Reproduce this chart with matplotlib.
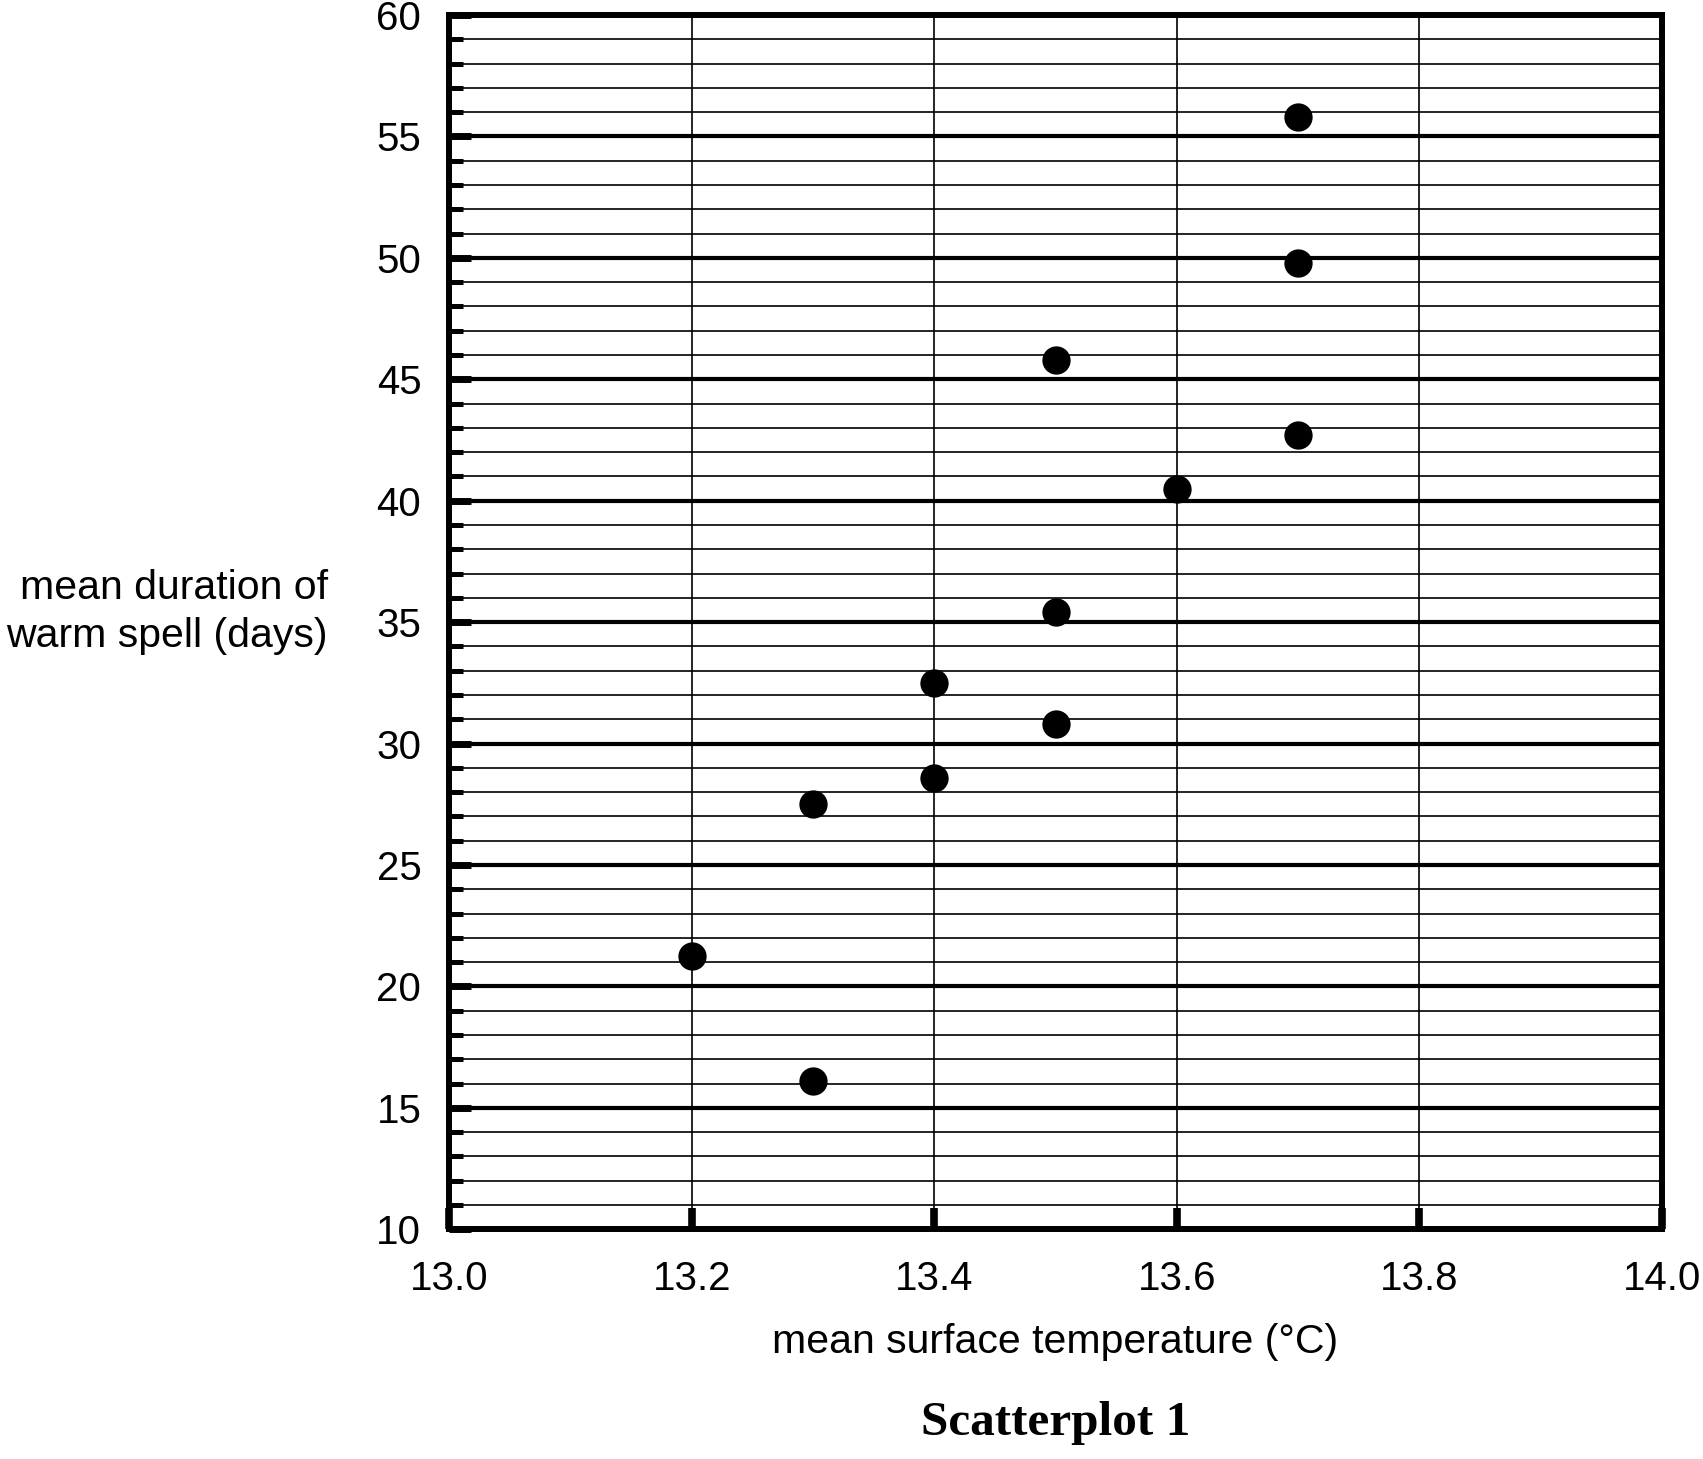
import matplotlib
matplotlib.use("Agg")
import matplotlib.pyplot as plt
from matplotlib.ticker import MultipleLocator

temperature = [13.2, 13.3, 13.3, 13.4, 13.4, 13.5, 13.5, 13.5, 13.6, 13.7, 13.7, 13.7]
duration = [21.25, 16.1, 27.5, 28.6, 32.5, 30.8, 35.4, 45.8, 40.5, 42.7, 49.8, 55.8]

x_ticks = [13.0, 13.2, 13.4, 13.6, 13.8, 14.0]
x_labels = ["13.0", "13.2", "13.4", "13.6", "13.8", "14.0"]
y_ticks = [10, 15, 20, 25, 30, 35, 40, 45, 50, 55, 60]

plt.rcParams["font.family"] = ["Liberation Sans", "DejaVu Sans"]

fig = plt.figure(figsize=(17.03, 14.59), dpi=100)
ax = fig.add_axes([0.2637, 0.1575, 0.7122, 0.8322])

ax.scatter(temperature, duration, s=415, color="black", zorder=3, linewidths=0)

ax.set_xlim(13.0, 14.0)
ax.set_ylim(10, 60)
ax.set_xticks(x_ticks)
ax.set_xticklabels(x_labels)
ax.set_yticks(y_ticks)
ax.yaxis.set_minor_locator(MultipleLocator(1))

# grid: thin every 1 day, thick every 5, thin verticals
ax.grid(axis="y", which="major", color="black", linewidth=3.0)
ax.grid(axis="y", which="minor", color="black", linewidth=1.2)
ax.grid(axis="x", which="major", color="black", linewidth=1.2)
ax.set_axisbelow(True)

for sp in ax.spines.values():
    sp.set_linewidth(4.3)
    sp.set_color("black")
    sp.set_zorder(4)

ax.tick_params(axis="y", which="major", direction="in", length=16, width=5,
               labelsize=29, pad=20, color="black")
ax.tick_params(axis="y", which="minor", direction="in", length=10, width=3.6,
               color="black")
ax.tick_params(axis="x", which="major", direction="in", length=15, width=5.5,
               labelsize=29, pad=22, color="black")

# labels
fig.text(0.1926, 0.5805, "mean duration of\nwarm spell (days)", ha="right",
         va="center", multialignment="right", fontsize=29.5, linespacing=1.32)
fig.text(0.6198, 0.0805, "mean surface temperature (°C)", ha="center",
         va="center", fontsize=29.5)
fig.text(0.6198, 0.0245, "Scatterplot 1", ha="center", va="center",
         fontsize=35.5, fontweight="bold", family=["Liberation Serif", "DejaVu Serif"])

fig.savefig("out.png", dpi=100)
